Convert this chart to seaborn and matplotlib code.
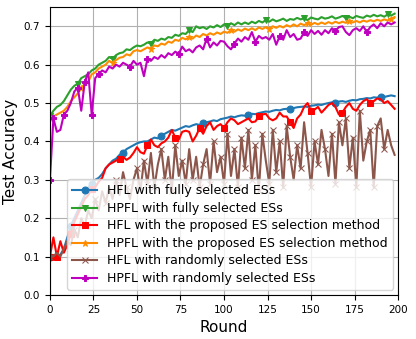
import numpy as np
import pandas as pd
import matplotlib
matplotlib.use("Agg")
import matplotlib.pyplot as plt
import seaborn as sns

rounds = list(range(0, 200, 2))

hfl_full = [0.10, 0.10, 0.095, 0.105, 0.12, 0.15, 0.18, 0.20, 0.22, 0.24,
            0.26, 0.28, 0.29, 0.30, 0.305, 0.315, 0.33, 0.34, 0.35, 0.355,
            0.365, 0.37, 0.38, 0.385, 0.39, 0.395, 0.398, 0.40, 0.40, 0.405,
            0.41, 0.408, 0.415, 0.42, 0.425, 0.43, 0.428, 0.432, 0.436, 0.44,
            0.438, 0.442, 0.445, 0.443, 0.448, 0.45, 0.452, 0.455, 0.453, 0.458,
            0.46, 0.462, 0.465, 0.463, 0.466, 0.468, 0.467, 0.47, 0.472, 0.471,
            0.474, 0.476, 0.478, 0.477, 0.48, 0.482, 0.481, 0.484, 0.485, 0.484,
            0.487, 0.489, 0.49, 0.491, 0.49, 0.493, 0.494, 0.496, 0.495, 0.498,
            0.50, 0.502, 0.501, 0.504, 0.505, 0.503, 0.506, 0.508, 0.507, 0.51,
            0.511, 0.513, 0.512, 0.515, 0.514, 0.517, 0.516, 0.518, 0.52, 0.518]

hpfl_full = [0.465, 0.48, 0.49, 0.495, 0.505, 0.52, 0.535, 0.545, 0.55, 0.565,
             0.57, 0.575, 0.585, 0.59, 0.60, 0.605, 0.61, 0.62, 0.615, 0.625,
             0.63, 0.632, 0.64, 0.638, 0.645, 0.65, 0.648, 0.652, 0.658, 0.655,
             0.665, 0.662, 0.668, 0.665, 0.672, 0.67, 0.678, 0.675, 0.682, 0.68,
             0.69, 0.685, 0.70, 0.695, 0.698, 0.693, 0.70, 0.697, 0.703, 0.698,
             0.705, 0.70, 0.708, 0.703, 0.71, 0.705, 0.71, 0.706, 0.712, 0.708,
             0.714, 0.71, 0.716, 0.712, 0.718, 0.713, 0.716, 0.72, 0.714, 0.719,
             0.717, 0.722, 0.718, 0.721, 0.716, 0.723, 0.72, 0.718, 0.724, 0.72,
             0.722, 0.726, 0.72, 0.723, 0.727, 0.722, 0.725, 0.721, 0.727, 0.724,
             0.722, 0.728, 0.725, 0.73, 0.726, 0.729, 0.725, 0.731, 0.728, 0.733]

hfl_proposed = [0.10, 0.15, 0.10, 0.14, 0.11, 0.13, 0.16, 0.19, 0.21, 0.23,
                0.25, 0.26, 0.275, 0.28, 0.295, 0.305, 0.33, 0.34, 0.345, 0.35,
                0.355, 0.36, 0.352, 0.358, 0.37, 0.385, 0.372, 0.368, 0.39, 0.405,
                0.39, 0.385, 0.395, 0.40, 0.41, 0.43, 0.41, 0.405, 0.425, 0.428,
                0.425, 0.40, 0.415, 0.435, 0.42, 0.44, 0.45, 0.43, 0.44, 0.445,
                0.435, 0.45, 0.46, 0.455, 0.445, 0.45, 0.455, 0.46, 0.45, 0.452,
                0.465, 0.47, 0.472, 0.46, 0.455, 0.46, 0.475, 0.465, 0.465, 0.45,
                0.435, 0.46, 0.47, 0.49, 0.50, 0.48, 0.483, 0.49, 0.475, 0.485,
                0.495, 0.50, 0.49, 0.47, 0.475, 0.49, 0.50, 0.485, 0.48, 0.495,
                0.505, 0.51, 0.50, 0.505, 0.512, 0.51, 0.50, 0.505, 0.495, 0.485]

hpfl_proposed = [0.46, 0.465, 0.47, 0.475, 0.48, 0.49, 0.505, 0.515, 0.525, 0.54,
                 0.55, 0.555, 0.575, 0.58, 0.59, 0.595, 0.60, 0.61, 0.605, 0.612,
                 0.618, 0.62, 0.627, 0.624, 0.635, 0.638, 0.635, 0.64, 0.645, 0.642,
                 0.65, 0.648, 0.655, 0.652, 0.66, 0.657, 0.665, 0.662, 0.67, 0.666,
                 0.672, 0.668, 0.676, 0.672, 0.68, 0.676, 0.682, 0.678, 0.684, 0.68,
                 0.686, 0.683, 0.69, 0.686, 0.692, 0.688, 0.694, 0.69, 0.695, 0.69,
                 0.697, 0.693, 0.698, 0.694, 0.70, 0.696, 0.701, 0.697, 0.703, 0.699,
                 0.705, 0.70, 0.707, 0.703, 0.708, 0.704, 0.709, 0.705, 0.71, 0.706,
                 0.711, 0.707, 0.712, 0.708, 0.712, 0.709, 0.713, 0.71, 0.714, 0.71,
                 0.715, 0.712, 0.716, 0.713, 0.717, 0.714, 0.718, 0.715, 0.72, 0.724]

hfl_random = [0.10, 0.10, 0.11, 0.10, 0.12, 0.14, 0.13, 0.17, 0.15, 0.20,
              0.18, 0.22, 0.20, 0.25, 0.22, 0.27, 0.24, 0.28, 0.25, 0.30,
              0.26, 0.32, 0.28, 0.25, 0.30, 0.33, 0.27, 0.35, 0.29, 0.37,
              0.28, 0.34, 0.38, 0.30, 0.36, 0.27, 0.39, 0.31, 0.35, 0.29,
              0.38, 0.30, 0.36, 0.28, 0.34, 0.38, 0.29, 0.40, 0.32, 0.36,
              0.29, 0.42, 0.31, 0.38, 0.28, 0.41, 0.33, 0.43, 0.30, 0.39,
              0.27, 0.42, 0.35, 0.29, 0.43, 0.32, 0.40, 0.28, 0.44, 0.36,
              0.30, 0.39, 0.33, 0.45, 0.37, 0.28, 0.40, 0.34, 0.43, 0.38,
              0.31, 0.42, 0.29, 0.45, 0.39, 0.46, 0.33, 0.41, 0.28, 0.48,
              0.35, 0.40, 0.43, 0.28, 0.44, 0.46, 0.38, 0.43, 0.39, 0.365]

hpfl_random = [0.30, 0.46, 0.425, 0.43, 0.47, 0.48, 0.50, 0.53, 0.54, 0.48,
               0.555, 0.58, 0.47, 0.565, 0.575, 0.585, 0.58, 0.595, 0.59, 0.60,
               0.595, 0.605, 0.60, 0.595, 0.61, 0.60, 0.605, 0.57, 0.615, 0.61,
               0.62, 0.615, 0.625, 0.618, 0.63, 0.625, 0.634, 0.628, 0.647, 0.635,
               0.64, 0.632, 0.645, 0.65, 0.64, 0.668, 0.645, 0.658, 0.65, 0.662,
               0.66, 0.648, 0.64, 0.655, 0.668, 0.66, 0.672, 0.665, 0.685, 0.66,
               0.675, 0.668, 0.672, 0.665, 0.68, 0.652, 0.675, 0.665, 0.69, 0.672,
               0.68, 0.665, 0.668, 0.685, 0.675, 0.69, 0.68, 0.688, 0.678, 0.69,
               0.682, 0.695, 0.688, 0.698, 0.70, 0.685, 0.677, 0.69, 0.695, 0.688,
               0.70, 0.685, 0.698, 0.705, 0.695, 0.708, 0.70, 0.71, 0.705, 0.71]

labels = ["HFL with fully selected ESs",
          "HPFL with fully selected ESs",
          "HFL with the proposed ES selection method",
          "HPFL with the proposed ES selection method",
          "HFL with randomly selected ESs",
          "HPFL with randomly selected ESs"]
series = [hfl_full, hpfl_full, hfl_proposed, hpfl_proposed, hfl_random, hpfl_random]
colors = ["#1f77b4", "#2ca02c", "#ff0000", "#ff8c00", "#8c564b", "#bf00bf"]
markers = ["o", "v", "s", "*", "x", "P"]

fig = plt.figure(figsize=(4.16, 3.39), dpi=100)
ax = fig.add_axes([0.12, 0.13, 0.837, 0.849])

for lab, vals, c, m in zip(labels, series, colors, markers):
    sns.lineplot(x=rounds, y=vals, ax=ax, color=c, marker=m, markevery=0.1,
                 markersize=5, markeredgecolor=c, linewidth=1.5, label=lab)

ax.set_xlim(0, 200)
ax.set_ylim(0, 0.75)
ax.set_xticks(range(0, 201, 25))
ax.set_yticks([0.0, 0.1, 0.2, 0.3, 0.4, 0.5, 0.6, 0.7])
ax.grid(True, color="#b0b0b0", linewidth=0.8)
ax.tick_params(labelsize=7.5)
ax.set_xlabel("Round", fontsize=11)
ax.set_ylabel("Test Accuracy", fontsize=11)
ax.legend(loc="lower right", fontsize=9.0, labelspacing=0.36,
          borderaxespad=0.4)

fig.savefig("out.png", dpi=100)
